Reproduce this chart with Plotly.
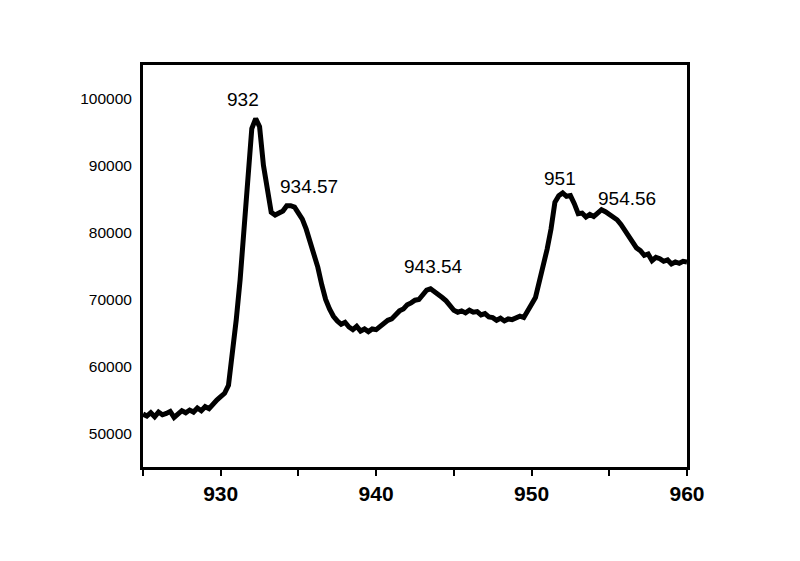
import plotly.graph_objects as go

energy = [925.00, 925.25, 925.50, 925.75, 926.00, 926.25, 926.50, 926.75, 927.00, 927.25,
          927.50, 927.75, 928.00, 928.25, 928.50, 928.75, 929.00, 929.25, 929.50, 929.75,
          930.00, 930.25, 930.50, 930.75, 931.00, 931.25, 931.50, 931.75, 932.00, 932.25,
          932.50, 932.75, 933.00, 933.25, 933.50, 933.75, 934.00, 934.25, 934.50, 934.75,
          935.00, 935.25, 935.50, 935.75, 936.00, 936.25, 936.50, 936.75, 937.00, 937.25,
          937.50, 937.75, 938.00, 938.25, 938.50, 938.75, 939.00, 939.25, 939.50, 939.75,
          940.00, 940.25, 940.50, 940.75, 941.00, 941.25, 941.50, 941.75, 942.00, 942.25,
          942.50, 942.75, 943.00, 943.25, 943.50, 943.75, 944.00, 944.25, 944.50, 944.75,
          945.00, 945.25, 945.50, 945.75, 946.00, 946.25, 946.50, 946.75, 947.00, 947.25,
          947.50, 947.75, 948.00, 948.25, 948.50, 948.75, 949.00, 949.25, 949.50, 949.75,
          950.00, 950.25, 950.50, 950.75, 951.00, 951.25, 951.50, 951.75, 952.00, 952.25,
          952.50, 952.75, 953.00, 953.25, 953.50, 953.75, 954.00, 954.25, 954.50, 954.75,
          955.00, 955.25, 955.50, 955.75, 956.00, 956.25, 956.50, 956.75, 957.00, 957.25,
          957.50, 957.75, 958.00, 958.25, 958.50, 958.75, 959.00, 959.25, 959.50, 959.75,
          960.00]

intensity = [52900, 52600, 53100, 52500, 53200, 52800, 53000, 53300, 52400, 53000,
             53400, 53100, 53500, 53200, 53800, 53400, 54000, 53700, 54500, 55000,
             55500, 56000, 57200, 61500, 67000, 73000, 81000, 89500, 95500, 97000,
             95800, 90000, 86500, 83000, 82600, 83000, 83200, 84000, 84000, 83800,
             82700, 82000, 80500, 78700, 76800, 74800, 72200, 70000, 68600, 67500,
             66800, 66300, 66600, 65900, 65500, 66000, 65300, 65600, 65200, 65600,
             65500, 66000, 66300, 66900, 67100, 67800, 68300, 68600, 69200, 69500,
             69900, 70000, 70600, 71400, 71600, 71200, 70900, 70300, 69800, 69000,
             68400, 68100, 68300, 68000, 68400, 68100, 68200, 67700, 67900, 67400,
             67300, 66900, 67200, 66800, 67100, 67000, 67300, 67500, 67300, 68500,
             69300, 70300, 72500, 74800, 77500, 80500, 84500, 85500, 85900, 85400,
             85500, 84300, 82800, 82900, 82300, 82700, 82400, 82900, 83400, 83100,
             82700, 82300, 81900, 81200, 80300, 79200, 78300, 77700, 77300, 76600,
             76800, 75800, 76300, 76100, 75700, 75900, 75300, 75600, 75400, 75700,
             75600]

peak_labels = ["932", "934.57", "943.54", "951", "954.56"]
peak_label_x = [931.43, 935.68, 943.70, 951.81, 956.17]
peak_label_y = [99800, 86820, 74970, 88130, 85120]

x_tick_vals = [925, 930, 935, 940, 945, 950, 955, 960]
x_tick_text = ["", "930", "", "940", "", "950", "", "960"]
y_tick_vals = [50000, 60000, 70000, 80000, 90000, 100000]
y_tick_text = ["50000", "60000", "70000", "80000", "90000", "100000"]

fig = go.Figure()
fig.add_trace(go.Scatter(x=energy, y=intensity, mode="lines",
                         line=dict(color="black", width=5), showlegend=False))

for t, ax_, ay_ in zip(peak_labels, peak_label_x, peak_label_y):
    fig.add_annotation(x=ax_, y=ay_, text=t, showarrow=False, xref="x", yref="y",
                       font=dict(family="Arial, Liberation Sans", size=19, color="black"),
                       xanchor="center", yanchor="middle")

fig.update_layout(
    width=800, height=561,
    margin=dict(l=135, r=121, t=57, b=102),
    paper_bgcolor="white", plot_bgcolor="white",
    xaxis=dict(range=[925, 960], tickvals=x_tick_vals, ticktext=x_tick_text,
               ticks="outside", ticklen=6, tickwidth=2, tickcolor="black",
               showline=True, linecolor="black", linewidth=3, mirror=True,
               showgrid=False, zeroline=False,
               tickfont=dict(family="Arial, Liberation Sans", size=21, color="black", weight="bold")),
    yaxis=dict(range=[45000, 105000], tickvals=y_tick_vals, ticktext=y_tick_text,
               ticks="", showline=True, linecolor="black", linewidth=3, mirror=True,
               showgrid=False, zeroline=False, ticklabelstandoff=5,
               tickfont=dict(family="Arial, Liberation Sans", size=15.5, color="black")),
)

fig.write_html("out.html")
